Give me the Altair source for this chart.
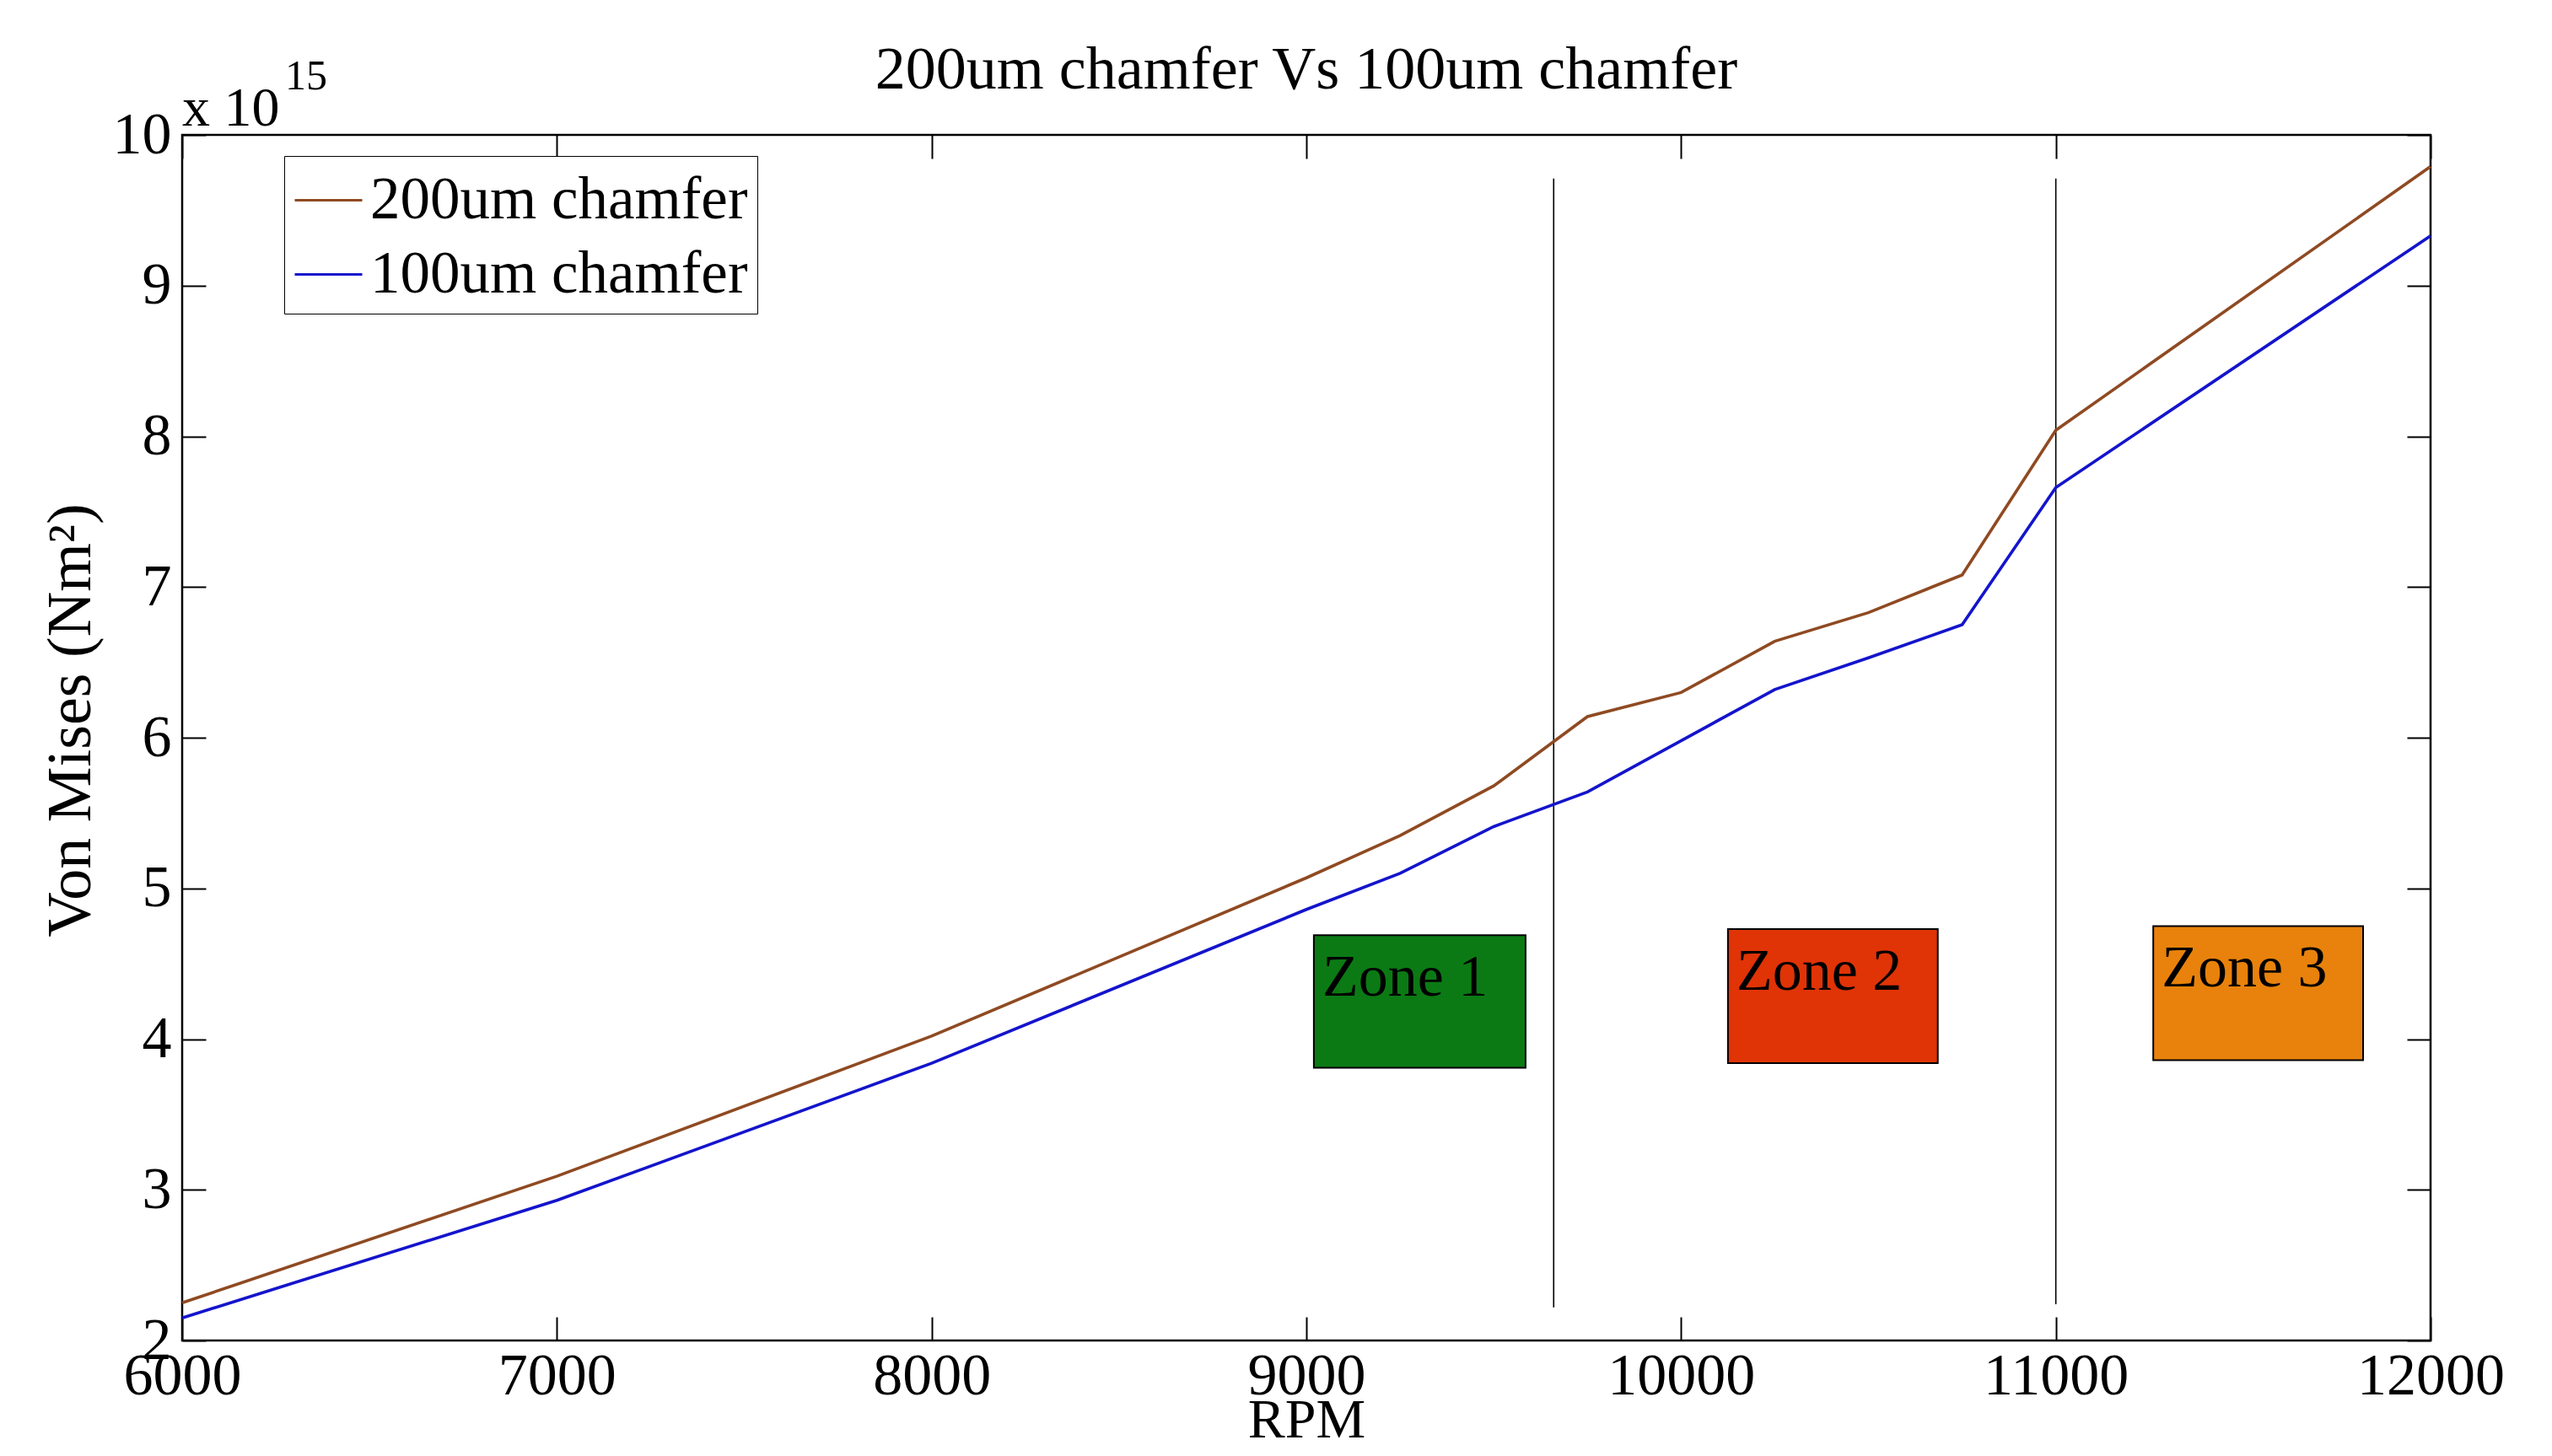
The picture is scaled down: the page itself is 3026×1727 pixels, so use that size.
import altair as alt
import pandas as pd

# ---------------- data (values in units of 10^15) ----------------
rpm = [6000, 7000, 8000, 9000, 9250, 9500, 9750, 10000, 10250, 10500, 10750, 11000, 12000]
chamfer_200 = [2.25, 3.09, 4.02, 5.07, 5.35, 5.68, 6.14, 6.30, 6.64, 6.83, 7.08, 8.04, 9.79]
chamfer_100 = [2.15, 2.93, 3.84, 4.86, 5.10, 5.41, 5.64, 5.98, 6.32, 6.53, 6.75, 7.66, 9.33]
series_names = ["200um chamfer", "100um chamfer"]
series_colors = ["#8f4a22", "#1414cc"]

x_ticks = [6000, 7000, 8000, 9000, 10000, 11000, 12000]
y_ticks = [2, 3, 4, 5, 6, 7, 8, 9, 10]

zone_line_rpm = [9660, 11000]
zone_line_top = [9.71, 9.71]
zone_line_bottom = [2.22, 2.24]

zone_names = ["Zone 1", "Zone 2", "Zone 3"]
zone_x0 = [9020, 10125, 11260]
zone_x1 = [9585, 10685, 11820]
zone_top = [4.69, 4.73, 4.75]
zone_bottom = [3.81, 3.84, 3.86]
zone_colors = ["#0b7a14", "#e03306", "#e8820c"]

exponent_main = "x 10"
exponent_power = "15"

# ---------------- layout ----------------
W, H = 2666, 1430
FONT = "Liberation Serif"

lines_df = pd.DataFrame({
    "rpm": rpm + rpm,
    "value": chamfer_200 + chamfer_100,
    "series": [series_names[0]] * len(rpm) + [series_names[1]] * len(rpm),
})
zone_line_df = pd.DataFrame({"rpm": zone_line_rpm, "top": zone_line_top, "bottom": zone_line_bottom})
zone_df = pd.DataFrame({"name": zone_names, "x0": zone_x0, "x1": zone_x1,
                        "top": zone_top, "bottom": zone_bottom})
exp_df = pd.DataFrame({"rpm": [x_ticks[0]], "value": [y_ticks[-1]],
                       "main": [exponent_main], "power": [exponent_power]})

xs = alt.Scale(domain=[x_ticks[0], x_ticks[-1]], nice=False, zero=False)
ys = alt.Scale(domain=[y_ticks[0], y_ticks[-1]], nice=False, zero=False)

rects = alt.Chart(zone_df).mark_rect(stroke="black", strokeWidth=2).encode(
    x=alt.X("x0:Q", scale=xs, axis=None),
    x2="x1:Q",
    y=alt.Y("top:Q", scale=ys, axis=None),
    y2="bottom:Q",
    fill=alt.Fill("name:N", scale=alt.Scale(domain=zone_names, range=zone_colors), legend=None),
)

zone_text = alt.Chart(zone_df).mark_text(
    align="left", baseline="alphabetic", dx=10, dy=72,
    font=FONT, fontSize=70, color="black"
).encode(
    x=alt.X("x0:Q", scale=xs, axis=None),
    y=alt.Y("top:Q", scale=ys, axis=None),
    text="name:N",
)

zone_rules = alt.Chart(zone_line_df).mark_rule(color="black", strokeWidth=1.6).encode(
    x=alt.X("rpm:Q", scale=xs, axis=None),
    y=alt.Y("top:Q", scale=ys, axis=None),
    y2="bottom:Q",
)

lines = alt.Chart(lines_df).mark_line(strokeWidth=3.6).encode(
    x=alt.X("rpm:Q", scale=xs, axis=alt.Axis(
        orient="bottom", values=x_ticks, format="d", ticks=False, domain=False, grid=False,
        labelFont=FONT, labelFontSize=70, labelColor="black", labelPadding=8,
        labelFlush=False, labelOverlap=False,
        title="RPM", titleFont=FONT, titleFontSize=66, titleFontWeight="normal",
        titleColor="black", titleBaseline="top", titleY=62)),
    y=alt.Y("value:Q", scale=ys, axis=alt.Axis(
        orient="left", values=y_ticks, format="d", ticks=False, domain=False, grid=False,
        labelFont=FONT, labelFontSize=70, labelColor="black", labelPadding=13,
        labelOverlap=False,
        title="Von Mises (Nm²)", titleFont=FONT, titleFontSize=74, titleFontWeight="normal",
        titleColor="black", titleX=-94, titleY=694)),
    color=alt.Color("series:N", scale=alt.Scale(domain=series_names, range=series_colors),
                    legend=alt.Legend(
                        orient="none", legendX=121, legendY=25, title=None,
                        symbolType="stroke", symbolSize=6400, symbolStrokeWidth=3,
                        labelFont=FONT, labelFontSize=71, labelColor="black",
                        labelOffset=8, labelLimit=2000,
                        strokeColor="black", fillColor="white",
                        padding=11, rowPadding=11)),
)

tick_layers = []
for x_orient, y_orient in [("top", "right"), ("bottom", "left")]:
    tick_layers.append(
        alt.Chart(lines_df).mark_point(opacity=0).encode(
            x=alt.X("rpm:Q", scale=xs, axis=alt.Axis(
                orient=x_orient, offset=-H, values=x_ticks, labels=False, domain=False,
                grid=False, tickSize=28, tickWidth=2, tickColor="black", title=None)),
            y=alt.Y("value:Q", scale=ys, axis=alt.Axis(
                orient=y_orient, offset=-W, values=y_ticks, labels=False, domain=False,
                grid=False, tickSize=28, tickWidth=2, tickColor="black", title=None)),
        )
    )

exp_main = alt.Chart(exp_df).mark_text(
    align="left", baseline="alphabetic", dy=-11, font=FONT, fontSize=66, color="black"
).encode(
    x=alt.X("rpm:Q", scale=xs, axis=None),
    y=alt.Y("value:Q", scale=ys, axis=None),
    text="main:N",
)
exp_power = alt.Chart(exp_df).mark_text(
    align="left", baseline="alphabetic", dx=122, dy=-54, font=FONT, fontSize=50, color="black"
).encode(
    x=alt.X("rpm:Q", scale=xs, axis=None),
    y=alt.Y("value:Q", scale=ys, axis=None),
    text="power:N",
)

chart = alt.layer(
    rects, zone_text, zone_rules, lines, *tick_layers, exp_main, exp_power
).resolve_scale(
    x="shared", y="shared"
).resolve_axis(
    x="independent", y="independent"
).properties(
    width=W, height=H,
    title=alt.Title("200um chamfer Vs 100um chamfer", font=FONT, fontSize=72,
                    fontWeight="normal", color="black", anchor="middle", frame="group",
                    baseline="alphabetic", offset=-111),
    autosize=alt.AutoSizeParams(type="none"),
    padding={"left": 208, "top": 152, "right": 136, "bottom": 129},
    background="white",
).configure_view(
    stroke="black", strokeWidth=2.5
)

chart.save("out.html", embed_options={"renderer": "svg", "actions": False})
